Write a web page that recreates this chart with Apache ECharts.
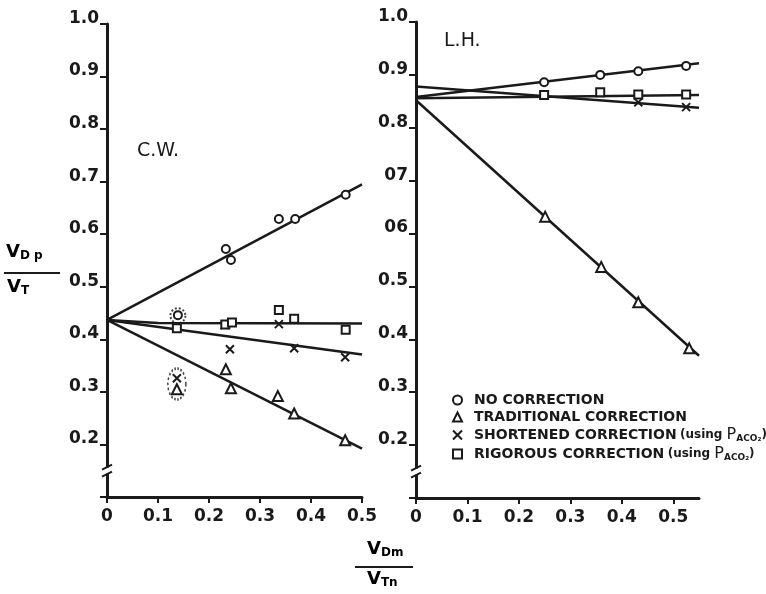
<!DOCTYPE html>
<html>
<head>
<meta charset="utf-8">
<script src="https://cdn.jsdelivr.net/npm/echarts@6/dist/echarts.min.js"></script>
<style>
html, body { margin: 0; padding: 0; background: #fff; }
#main { width: 766px; height: 594px; }
</style>
</head>
<body>
<div id="main"></div>
<script>
// 数据: C.W. (左图) [VDm/VTn, VDp/VT]
const cwNoCorr = [[0.139, 0.446], [0.233, 0.572], [0.243, 0.551], [0.337, 0.629], [0.369, 0.629], [0.468, 0.675]]
const cwTrad = [[0.137, 0.305], [0.233, 0.343], [0.243, 0.307], [0.335, 0.292], [0.367, 0.259], [0.467, 0.208]]
const cwShort = [[0.137, 0.326], [0.231, 0.427], [0.241, 0.381], [0.337, 0.429], [0.367, 0.383], [0.467, 0.366]]
const cwRig = [[0.137, 0.421], [0.232, 0.428], [0.245, 0.432], [0.337, 0.456], [0.367, 0.439], [0.468, 0.418]]
// 拟合线
const cwNoCorrLine = [[0, 0.437], [0.5, 0.695]]
const cwTradLine = [[0, 0.437], [0.5, 0.192]]
const cwShortLine = [[0, 0.437], [0.5, 0.371]]
const cwRigLine = [[0, 0.437], [0.1, 0.431], [0.5, 0.430]]
// 圈出的点
const cwCircled = [[0.139, 0.445]]
const cwCircledPair = [[0.137, 0.315]]

// 数据: L.H. (右图)
const lhNoCorr = [[0.249, 0.886], [0.358, 0.900], [0.432, 0.907], [0.525, 0.917]]
const lhTrad = [[0.251, 0.632], [0.360, 0.537], [0.432, 0.470], [0.531, 0.383]]
const lhShort = [[0.249, 0.861], [0.358, 0.866], [0.432, 0.848], [0.525, 0.839]]
const lhRig = [[0.249, 0.862], [0.358, 0.867], [0.432, 0.863], [0.525, 0.863]]
const lhNoCorrLine = [[0, 0.858], [0.55, 0.922]]
const lhTradLine = [[0, 0.852], [0.55, 0.369]]
const lhShortLine = [[0, 0.878], [0.55, 0.838]]
const lhRigLine = [[0, 0.856], [0.55, 0.862]]

// 刻度标签
const xTicks = [0, 0.1, 0.2, 0.3, 0.4, 0.5]
const xLabels = ['0', '0.1', '0.2', '0.3', '0.4', '0.5']
const yTicks = [0.2, 0.3, 0.4, 0.5, 0.6, 0.7, 0.8, 0.9, 1.0]
const cwYLabels = ['0.2', '0.3', '0.4', '0.5', '0.6', '0.7', '0.8', '0.9', '1.0']
const lhYLabels = ['0.2', '0.3', '0.4', '0.5', '06', '07', '0.8', '0.9', '1.0']
const legendNames = ['NO CORRECTION', 'TRADITIONAL CORRECTION', 'SHORTENED CORRECTION', 'RIGOROUS CORRECTION']

const ink = '#1a1a1a'
const font = 'DejaVu Sans'
const crossPath = 'path://M0,0L10,10M10,0L0,10'
const symbols = [
  { symbol: 'circle', size: 8 },
  { symbol: 'triangle', size: 10 },
  { symbol: crossPath, size: 8 },
  { symbol: 'rect', size: 8 },
]

let myChart = echarts.init(document.getElementById('main'))

function xAxis(gi, max) {
  return {
    gridIndex: gi,
    type: 'value',
    min: 0,
    max: max,
    interval: 0.1,
    splitLine: { show: false },
    axisLine: { lineStyle: { color: ink, width: 3 } },
    axisTick: { length: 6, customValues: xTicks, lineStyle: { color: ink, width: 2 } },
    axisLabel: {
      customValues: xTicks,
      margin: 11,
      color: ink,
      fontFamily: font,
      fontWeight: 'bold',
      fontSize: 17,
      formatter: v => xLabels[Math.round(v * 10)],
    },
  }
}

function yAxis(gi, labels) {
  return {
    gridIndex: gi,
    type: 'value',
    min: 0.1,
    max: 1.0,
    interval: 0.1,
    splitLine: { show: false },
    axisLine: { lineStyle: { color: ink, width: 3 } },
    axisTick: { length: 7, customValues: [0.1].concat(yTicks), lineStyle: { color: ink, width: 2 } },
    axisLabel: {
      customValues: yTicks,
      margin: 8,
      color: ink,
      fontFamily: font,
      fontWeight: 'bold',
      fontSize: 17,
      verticalAlign: 'bottom',
      lineHeight: 11,
      formatter: v => labels[Math.round(v * 10) - 2],
    },
  }
}

function pointSeries(k, data, gi) {
  return {
    name: legendNames[k],
    type: 'scatter',
    xAxisIndex: gi,
    yAxisIndex: gi,
    symbol: symbols[k].symbol,
    symbolSize: symbols[k].size,
    itemStyle: { color: '#fff', borderColor: ink, borderWidth: 2, opacity: 1 },
    z: 3,
    data: data,
  }
}

function lineSeries(data, gi) {
  return {
    type: 'line',
    xAxisIndex: gi,
    yAxisIndex: gi,
    symbol: 'none',
    silent: true,
    lineStyle: { color: ink, width: 2.5 },
    z: 2,
    data: data,
  }
}

function ringSeries(data, size) {
  return {
    type: 'scatter',
    xAxisIndex: 0,
    yAxisIndex: 0,
    symbol: 'circle',
    symbolSize: size,
    silent: true,
    itemStyle: { color: 'rgba(0,0,0,0)', borderColor: ink, borderWidth: 2, borderType: [2, 2] },
    z: 4,
    data: data,
  }
}

const sub = { fontFamily: font, fontWeight: 'bold', fontSize: 12, color: ink, verticalAlign: 'bottom' }
const big = { fontFamily: font, fontWeight: 'bold', fontSize: 18, color: ink, lineHeight: 20 }

let option = {
  backgroundColor: '#fff',
  animation: false,
  grid: [
    { left: 107, top: 24, width: 255, height: 473 },
    { left: 416, top: 22, width: 283, height: 476 },
  ],
  xAxis: [xAxis(0, 0.5), xAxis(1, 0.55)],
  yAxis: [yAxis(0, cwYLabels), yAxis(1, lhYLabels)],
  legend: {
    data: legendNames,
    orient: 'vertical',
    left: 447,
    top: 388,
    itemWidth: 9,
    itemHeight: 9,
    itemGap: 3,
    selectedMode: false,
    formatter: name => {
      if (name.indexOf('SHORTENED') === 0 || name.indexOf('RIGOROUS') === 0) {
        return '{n|' + name + '} {s|(using }{p|P}{b|ACO₂}{s|)}'
      }
      return '{n|' + name + '}'
    },
    textStyle: {
      rich: {
        n: { fontFamily: font, fontWeight: 'bold', fontSize: 14, color: ink, lineHeight: 16, padding: [0, 0, 0, 7] },
        s: { fontFamily: font, fontWeight: 'bold', fontSize: 12, color: ink, lineHeight: 16 },
        p: { fontFamily: font, fontSize: 16, color: ink, lineHeight: 16 },
        b: { fontFamily: font, fontWeight: 'bold', fontSize: 9, color: ink, verticalAlign: 'bottom' },
      },
    },
  },
  graphic: [
    { type: 'text', left: 137, top: 142, style: { text: 'C.W.', font: '19px "DejaVu Sans"', fill: ink } },
    { type: 'text', left: 444, top: 32, style: { text: 'L.H.', font: '19px "DejaVu Sans"', fill: ink } },
    // 纵轴标题
    { type: 'text', left: 6, top: 243, style: { text: '{v|V}{s|D p}', rich: { v: big, s: sub } } },
    { type: 'line', shape: { x1: 4, y1: 273, x2: 60, y2: 273 }, style: { stroke: ink, lineWidth: 2 } },
    { type: 'text', left: 7, top: 278, style: { text: '{v|V}{s|T}', rich: { v: big, s: sub } } },
    // 横轴标题
    { type: 'text', left: 367, top: 540, style: { text: '{v|V}{s|Dm}', rich: { v: big, s: sub } } },
    { type: 'line', shape: { x1: 355, y1: 567, x2: 413, y2: 567 }, style: { stroke: ink, lineWidth: 2 } },
    { type: 'text', left: 367, top: 570, style: { text: '{v|V}{s|Tn}', rich: { v: big, s: sub } } },
  ],
  series: [
    lineSeries(cwNoCorrLine, 0),
    lineSeries(cwTradLine, 0),
    lineSeries(cwShortLine, 0),
    lineSeries(cwRigLine, 0),
    pointSeries(0, cwNoCorr, 0),
    pointSeries(1, cwTrad, 0),
    pointSeries(2, cwShort, 0),
    pointSeries(3, cwRig, 0),
    ringSeries(cwCircled, 15),
    ringSeries(cwCircledPair, [18, 31]),
    lineSeries(lhNoCorrLine, 1),
    lineSeries(lhTradLine, 1),
    lineSeries(lhShortLine, 1),
    lineSeries(lhRigLine, 1),
    pointSeries(0, lhNoCorr, 1),
    pointSeries(1, lhTrad, 1),
    pointSeries(2, lhShort, 1),
    pointSeries(3, lhRig, 1),
  ],
}
myChart.setOption(option)

// 纵轴断开标记
let breaks = []
;[0, 1].forEach(gi => {
  const p = myChart.convertToPixel({ gridIndex: gi }, [0, 0.15])
  const x = p[0], y = p[1]
  breaks.push(
    { type: 'rect', shape: { x: x - 3, y: y - 3, width: 6, height: 6 }, style: { fill: '#fff' }, z: 100 },
    { type: 'line', shape: { x1: x - 5, y1: y - 1, x2: x + 5, y2: y - 6 }, style: { stroke: ink, lineWidth: 2 }, z: 101 },
    { type: 'line', shape: { x1: x - 5, y1: y + 6, x2: x + 5, y2: y + 1 }, style: { stroke: ink, lineWidth: 2 }, z: 101 }
  )
})
myChart.setOption({ graphic: option.graphic.concat(breaks) })
</script>
</body>
</html>
